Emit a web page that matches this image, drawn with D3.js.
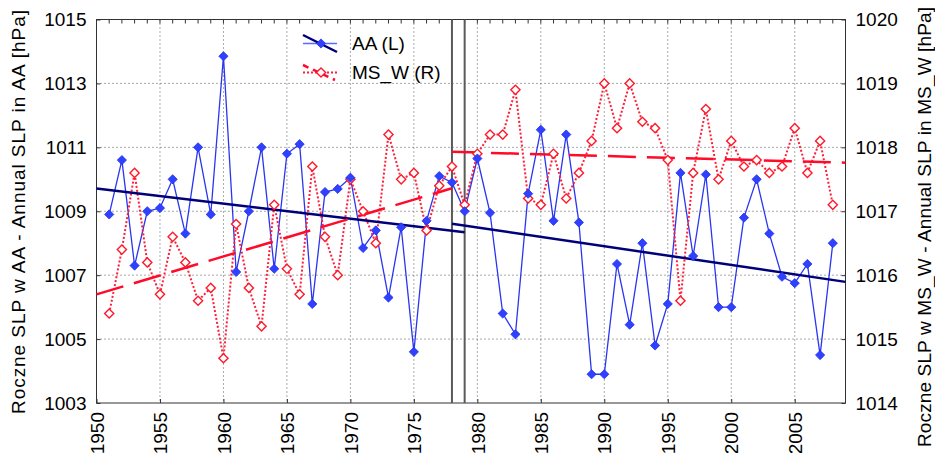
<!DOCTYPE html>
<html>
<head>
<meta charset="utf-8">
<script src="https://cdn.jsdelivr.net/npm/d3@7"></script>
<style>
  body { margin: 0; background: #fff; }
  svg { display: block; font-family: Arial, "Liberation Sans", sans-serif; }
</style>
</head>
<body>
<div id="viz"></div>
<script>
var years = [1951,1952,1953,1954,1955,1956,1957,1958,1959,1960,
  1961,1962,1963,1964,1965,1966,1967,1968,1969,1970,
  1971,1972,1973,1974,1975,1976,1977,1978,1979,1980,
  1981,1982,1983,1984,1985,1986,1987,1988,1989,1990,
  1991,1992,1993,1994,1995,1996,1997,1998,1999,2000,
  2001,2002,2003,2004,2005,2006,2007,2008];

// AA, left axis
var aa = [1008.9,1010.6,1007.3,1009.0,1009.1,1010.0,1008.3,1011.0,1008.9,1013.85,
  1007.1,1009.0,1011.0,1007.2,1010.8,1011.1,1006.1,1009.6,1009.7,1010.05,
  1007.85,1008.4,1006.3,1008.5,1004.6,1008.7,1010.1,1009.9,1009.0,1010.65,
  1008.95,1005.8,1005.15,1009.55,1011.55,1008.7,1011.4,1008.65,1003.9,1003.9,
  1007.35,1005.45,1008.0,1004.8,1006.1,1010.2,1007.6,1010.15,1006.0,1006.0,
  1008.8,1010.0,1008.3,1006.95,1006.75,1007.35,1004.5,1008.0];

// MS_W, right axis
var msw = [1015.4,1016.4,1017.6,1016.2,1015.7,1016.6,1016.2,1015.6,1015.8,1014.7,
  1016.8,1015.8,1015.2,1017.1,1016.1,1015.7,1017.7,1016.6,1016.0,1017.5,
  1017.0,1016.5,1018.2,1017.5,1017.6,1016.7,1017.4,1017.7,1017.1,1017.9,
  1018.2,1018.2,1018.9,1017.2,1017.1,1017.9,1017.2,1017.6,1018.1,1019.0,
  1018.3,1019.0,1018.4,1018.3,1017.8,1015.6,1017.6,1018.6,1017.5,1018.1,
  1017.7,1017.8,1017.6,1017.7,1018.3,1017.6,1018.1,1017.1];

// trend segments [year, value]
var aaTrend1 = [[1950,1009.71],[1979,1008.34]];
var aaTrend2 = [[1978,1008.61],[2009,1006.79]];
var mswTrend1 = [[1950,1015.70],[1978,1017.36]];
var mswTrend2 = [[1978,1017.93],[2009,1017.76]];

var breakYears = [1978, 1979];

var xTicks = [1950,1955,1960,1965,1970,1975,1980,1985,1990,1995,2000,2005];
var leftTicks = [1003,1005,1007,1009,1011,1013,1015];
var rightTicks = [1014,1015,1016,1017,1018,1019,1020];

var width = 935, height = 453;
var pL = 96.5, pR = 845.5, pT = 19.5, pB = 403;

var x = d3.scaleLinear().domain([1950, 2009]).range([pL, pR]);
var yL = d3.scaleLinear().domain([1003, 1015]).range([pB, pT]);
var yR = d3.scaleLinear().domain([1014, 1020]).range([pB, pT]);

var svg = d3.select('#viz').append('svg')
  .attr('width', width)
  .attr('height', height);

// grid
svg.append('g').selectAll('line').data(xTicks.slice(1))
  .enter().append('line')
    .attr('x1', function(d){ return x(d); })
    .attr('x2', function(d){ return x(d); })
    .attr('y1', pT).attr('y2', pB)
    .attr('stroke', '#555').attr('stroke-width', 1)
    .attr('stroke-dasharray', '1,3');
svg.append('g').selectAll('line').data(leftTicks.slice(1, -1))
  .enter().append('line')
    .attr('x1', pL).attr('x2', pR)
    .attr('y1', function(d){ return yL(d); })
    .attr('y2', function(d){ return yL(d); })
    .attr('stroke', '#555').attr('stroke-width', 1)
    .attr('stroke-dasharray', '1,3');

// minor ticks on top every year
svg.append('g').selectAll('line').data(d3.range(1951, 2009))
  .enter().append('line')
    .attr('x1', function(d){ return x(d); })
    .attr('x2', function(d){ return x(d); })
    .attr('y1', pT).attr('y2', pT + 4)
    .attr('stroke', '#333');

// axes
var fontSize = 19;
var axB = svg.append('g').attr('transform', 'translate(0,' + pB + ')')
  .call(d3.axisBottom(x).tickValues(xTicks).tickSize(-4).tickFormat(d3.format('d')));
axB.selectAll('text')
  .attr('transform', 'rotate(-90)')
  .attr('text-anchor', 'end')
  .attr('x', -9).attr('y', 0).attr('dy', '0.35em');

var axL = svg.append('g').attr('transform', 'translate(' + pL + ',0)')
  .call(d3.axisLeft(yL).tickValues(leftTicks).tickSize(-4).tickPadding(10).tickFormat(d3.format('d')));
var axR = svg.append('g').attr('transform', 'translate(' + pR + ',0)')
  .call(d3.axisRight(yR).tickValues(rightTicks).tickSize(-4).tickPadding(10).tickFormat(d3.format('d')));

[axB, axL, axR].forEach(function(a){
  a.select('.domain').remove();
  a.selectAll('line').attr('stroke', '#333');
  a.selectAll('text').attr('font-size', fontSize).attr('fill', '#000')
    .attr('font-family', 'Arial, "Liberation Sans", sans-serif');
});

// frame
svg.append('rect')
  .attr('x', pL).attr('y', pT)
  .attr('width', pR - pL).attr('height', pB - pT)
  .attr('fill', 'none').attr('stroke', '#333').attr('stroke-width', 1);

// break lines
svg.append('g').selectAll('line').data(breakYears)
  .enter().append('line')
    .attr('x1', function(d){ return x(d); })
    .attr('x2', function(d){ return x(d); })
    .attr('y1', pT).attr('y2', pB)
    .attr('stroke', '#5a5a5a').attr('stroke-width', 2);

var aaPts = years.map(function(d, i){ return [d, aa[i]]; });
var mswPts = years.map(function(d, i){ return [d, msw[i]]; });

var lineL = d3.line().x(function(d){ return x(d[0]); }).y(function(d){ return yL(d[1]); });
var lineR = d3.line().x(function(d){ return x(d[0]); }).y(function(d){ return yR(d[1]); });

// AA series
svg.append('path').datum(aaPts)
  .attr('d', lineL).attr('fill', 'none')
  .attr('stroke', '#2a35f0').attr('stroke-width', 1.3);

// MS_W series
svg.append('path').datum(mswPts)
  .attr('d', lineR).attr('fill', 'none')
  .attr('stroke', '#ff1f3a').attr('stroke-width', 2)
  .attr('stroke-dasharray', '2,2');

// trends
[aaTrend1, aaTrend2].forEach(function(t){
  svg.append('path').datum(t).attr('d', lineL)
    .attr('fill', 'none').attr('stroke', '#00007a').attr('stroke-width', 2.5);
});
[mswTrend1, mswTrend2].forEach(function(t){
  svg.append('path').datum(t).attr('d', lineR)
    .attr('fill', 'none').attr('stroke', '#ff0a28').attr('stroke-width', 2.5)
    .attr('stroke-dasharray', '28,11');
});

var diamond = 'M0,-4.6L4.6,0L0,4.6L-4.6,0Z';

svg.append('g').selectAll('path').data(mswPts)
  .enter().append('path')
    .attr('d', diamond)
    .attr('transform', function(d){ return 'translate(' + x(d[0]) + ',' + yR(d[1]) + ')'; })
    .attr('fill', '#fff').attr('stroke', '#ff1a2a').attr('stroke-width', 1.4);

svg.append('g').selectAll('path').data(aaPts)
  .enter().append('path')
    .attr('d', diamond)
    .attr('transform', function(d){ return 'translate(' + x(d[0]) + ',' + yL(d[1]) + ')'; })
    .attr('fill', '#3040ff').attr('stroke', '#2030f0').attr('stroke-width', 0.8);

// legend
var lg = svg.append('g');
lg.append('line').attr('x1', 303).attr('x2', 337).attr('y1', 43.5).attr('y2', 43.5)
  .attr('stroke', '#5a6aff').attr('stroke-width', 1.3);
lg.append('line').attr('x1', 303).attr('x2', 337).attr('y1', 35).attr('y2', 52)
  .attr('stroke', '#00007a').attr('stroke-width', 2.5);
lg.append('path').attr('d', diamond).attr('transform', 'translate(321,43.5)')
  .attr('fill', '#3040ff').attr('stroke', '#2030f0').attr('stroke-width', 0.8);
lg.append('text').attr('x', 352).attr('y', 43.5).attr('dy', '0.35em')
  .attr('font-size', fontSize).text('AA (L)');

lg.append('line').attr('x1', 303).attr('x2', 337).attr('y1', 72.5).attr('y2', 72.5)
  .attr('stroke', '#ff1f3a').attr('stroke-width', 2).attr('stroke-dasharray', '2,2');
lg.append('line').attr('x1', 303).attr('x2', 335).attr('y1', 65).attr('y2', 80)
  .attr('stroke', '#ff0a28').attr('stroke-width', 2.5).attr('stroke-dasharray', '6,5');
lg.append('path').attr('d', diamond).attr('transform', 'translate(321,72.5)')
  .attr('fill', '#fff').attr('stroke', '#ff1a2a').attr('stroke-width', 1.4);
lg.append('text').attr('x', 352).attr('y', 72.5).attr('dy', '0.35em')
  .attr('font-size', fontSize).text('MS_W (R)');

// axis titles
svg.append('text')
  .attr('transform', 'translate(25,212) rotate(-90)')
  .attr('text-anchor', 'middle')
  .attr('font-size', fontSize)
  .attr('textLength', 404).attr('lengthAdjust', 'spacing')
  .text('Roczne SLP w AA - Annual SLP in AA [hPa]');
svg.append('text')
  .attr('transform', 'translate(931,227) rotate(-90)')
  .attr('text-anchor', 'middle')
  .attr('font-size', fontSize)
  .attr('textLength', 440).attr('lengthAdjust', 'spacing')
  .text('Roczne SLP w MS_W - Annual SLP in MS_W [hPa]');
</script>
</body>
</html>
